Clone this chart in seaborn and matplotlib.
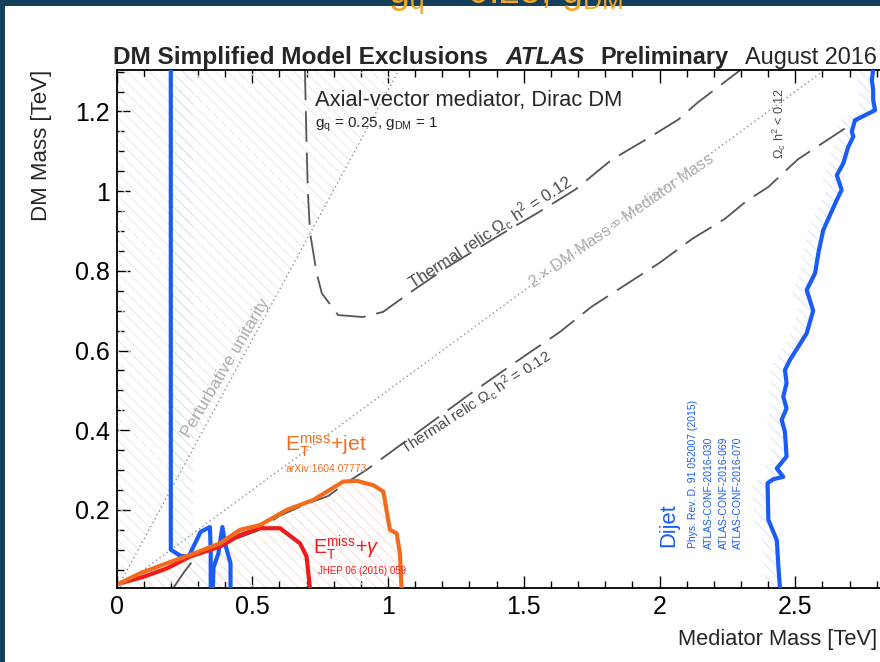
import numpy as np
import seaborn as sns
import matplotlib.pyplot as plt
from matplotlib.patches import Polygon, Rectangle
from matplotlib.ticker import MultipleLocator
from matplotlib import font_manager

sns.set_style("ticks")


def have_font(name):
    try:
        font_manager.findfont(font_manager.FontProperties(family=name),
                              fallback_to_default=False)
        return True
    except Exception:
        return False


SANS = "Liberation Sans" if have_font("Liberation Sans") else "DejaVu Sans"
plt.rcParams["font.family"] = [SANS, "DejaVu Sans"]
plt.rcParams["mathtext.fontset"] = "custom"
plt.rcParams["mathtext.rm"] = SANS
plt.rcParams["mathtext.it"] = SANS + ":italic"
plt.rcParams["mathtext.bf"] = SANS + ":bold"
plt.rcParams["hatch.linewidth"] = 0.8

# ---------------------------------------------------------------- data (TeV)
# Dijet exclusion, low-mass edge and the small island next to it
dijet_low_x = [0.200, 0.200, 0.235, 0.265, 0.285, 0.310, 0.344, 0.347, 0.347]
dijet_low_y = [1.305, 0.100, 0.085, 0.082, 0.110, 0.145, 0.157, 0.100, 0.000]
dijet_isl_x = [0.355, 0.357, 0.375, 0.390, 0.400, 0.420, 0.420]
dijet_isl_y = [0.000, 0.055, 0.090, 0.157, 0.115, 0.066, 0.000]
# Dijet exclusion, high-mass edge
dijet_high_x = [2.444, 2.438, 2.432, 2.401, 2.398, 2.419, 2.456, 2.432, 2.468,
                2.462, 2.450, 2.468, 2.456, 2.468, 2.462, 2.480, 2.542, 2.566,
                2.542, 2.573, 2.585, 2.603, 2.653, 2.671, 2.653, 2.677, 2.695,
                2.714, 2.708, 2.720, 2.794, 2.787, 2.787, 2.782, 2.787]
dijet_high_y = [0.000, 0.057, 0.124, 0.175, 0.267, 0.277, 0.283, 0.304, 0.334,
                0.396, 0.426, 0.455, 0.484, 0.518, 0.551, 0.576, 0.643, 0.700,
                0.752, 0.794, 0.844, 0.902, 0.978, 1.003, 1.040, 1.070, 1.111,
                1.137, 1.149, 1.178, 1.203, 1.229, 1.254, 1.279, 1.305]
# ETmiss + jet
jet_x = [0.013, 0.087, 0.185, 0.271, 0.381, 0.455, 0.529, 0.627, 0.725, 0.835,
         0.885, 0.946, 0.983, 1.007, 1.032, 1.044, 1.050]
jet_y = [0.016, 0.041, 0.066, 0.087, 0.116, 0.150, 0.162, 0.200, 0.225, 0.271,
         0.273, 0.262, 0.246, 0.150, 0.141, 0.091, 0.000]
# ETmiss + photon
gam_x = [0.013, 0.099, 0.185, 0.271, 0.381, 0.455, 0.529, 0.602, 0.676, 0.700,
         0.713]
gam_y = [0.016, 0.032, 0.053, 0.083, 0.108, 0.137, 0.154, 0.154, 0.116, 0.083,
         0.000]
# Thermal relic Omega_c h^2 = 0.12, upper and lower branches
relic_up_x = [0.694, 0.700, 0.705, 0.713, 0.737, 0.756, 0.816, 0.908, 0.982,
              1.080, 1.220, 1.400, 1.550, 1.690, 1.824, 1.949, 2.070, 2.140,
              2.300]
relic_up_y = [1.305, 1.120, 0.995, 0.895, 0.795, 0.744, 0.689, 0.684, 0.697,
              0.745, 0.810, 0.885, 0.945, 1.004, 1.079, 1.129, 1.180, 1.222,
              1.305]
relic_lo_x = [0.210, 0.250, 0.290, 0.330, 0.390, 0.450, 0.520, 0.600, 0.700,
              0.780, 0.850, 0.920, 0.980, 1.100, 1.300, 1.500, 1.630, 1.750,
              1.875, 2.000, 2.120, 2.240, 2.320, 2.400, 2.510, 2.700, 2.790]
relic_lo_y = [0.005, 0.045, 0.080, 0.105, 0.120, 0.130, 0.148, 0.185, 0.215,
              0.235, 0.270, 0.300, 0.330, 0.390, 0.490, 0.585, 0.645, 0.710,
              0.765, 0.820, 0.880, 0.930, 0.975, 1.010, 1.080, 1.165, 1.205]
# Reference lines: 2 x DM mass = mediator mass, perturbative unitarity
diag_x = [0.0, 2.61]
diag_y = [0.0, 1.305]
unit_x = [0.0, 1.041]
unit_y = [0.0, 1.305]

xticks = [0, 0.5, 1, 1.5, 2, 2.5]
xtick_labels = ["0", "0.5", "1", "1.5", "2", "2.5"]
yticks = [0.2, 0.4, 0.6, 0.8, 1.0, 1.2]
ytick_labels = ["0.2", "0.4", "0.6", "0.8", "1", "1.2"]

BLUE = "#1a5cf5"
ORANGE = "#f36c1e"
RED = "#ee1b1b"
DASH = "#555555"
DOT = "#8f8f8f"
LIGHT = "#adadad"

# ---------------------------------------------------------------- figure
W, H = 880, 662
fig = plt.figure(figsize=(W / 100, H / 100), dpi=100)
fig.patch.set_facecolor("#133f5b")
fig.add_artist(Rectangle((5 / W, 0), 1, 1 - 6 / H, transform=fig.transFigure,
                         facecolor="white", edgecolor="none", zorder=-5))

ax = fig.add_axes([116.5 / W, 1 - 588 / H, (W - 116.5) / W, 518 / H])
ax.set_facecolor("none")


def hatch(xs, ys, color):
    ax.add_patch(Polygon(np.column_stack([xs, ys]), closed=True,
                         facecolor="none", edgecolor=color, lw=0,
                         hatch="\\\\\\", zorder=1))


# hatched excluded sides
hatch(unit_x + [0.0], unit_y + [unit_y[-1]], "#ececec")
lx = np.array(dijet_low_x[:2])
ly = np.array(dijet_low_y[:2])
hatch(np.r_[lx, lx[::-1] + 0.08], np.r_[ly, ly[::-1]], "#dbe6fc")
hx = np.array(dijet_high_x)
hy = np.array(dijet_high_y)
hatch(np.r_[hx, hx[::-1] - 0.055], np.r_[hy, hy[::-1]], "#dbe6fc")
hatch(np.r_[dijet_isl_x], np.r_[dijet_isl_y], "#dbe6fc")
hatch(np.r_[0.0, jet_x, 0.0], np.r_[0.0, jet_y, 0.0], "#fadfd8")


def sline(x, y, **kw):
    sns.lineplot(x=x, y=y, sort=False, estimator=None, ax=ax, legend=False,
                 **kw)


sline(diag_x, diag_y, color=DOT, lw=1.0, linestyle=(0, (1, 2.2)), zorder=2)
sline(unit_x, unit_y, color=DOT, lw=1.0, linestyle=(0, (1, 2.2)), zorder=2)
sline(relic_up_x, relic_up_y, color=DASH, lw=1.3, linestyle=(0, (17, 6)),
      zorder=2)
sline(relic_lo_x, relic_lo_y, color=DASH, lw=1.3, linestyle=(0, (17, 6)),
      zorder=2)
sline(dijet_low_x, dijet_low_y, color=BLUE, lw=3.0, zorder=3)
sline(dijet_isl_x, dijet_isl_y, color=BLUE, lw=3.0, zorder=3)
sline(dijet_high_x, dijet_high_y, color=BLUE, lw=3.0, zorder=3)
sline(gam_x, gam_y, color=RED, lw=3.0, zorder=4)
sline(jet_x, jet_y, color=ORANGE, lw=3.0, zorder=5)

ax.set_xlim(0, (W - 116.5) / 271.5)
ax.set_ylim(0.004, 1.304)
ax.set_xlabel("")
ax.set_ylabel("")
ax.set_xticks(xticks)
ax.set_xticklabels(xtick_labels)
ax.set_yticks(yticks)
ax.set_yticklabels(ytick_labels)
ax.xaxis.set_minor_locator(MultipleLocator(0.1))
ax.yaxis.set_minor_locator(MultipleLocator(0.05))
ax.tick_params(which="both", direction="in", top=True, right=False,
               width=1.0, colors="black", labelsize=18, pad=5)
ax.tick_params(which="major", length=9)
ax.tick_params(which="minor", length=5)
for side in ("left", "bottom", "top"):
    ax.spines[side].set_linewidth(1.3)
    ax.spines[side].set_color("black")
ax.spines["right"].set_visible(False)

# ---------------------------------------------------------------- text
renderer = fig.canvas.get_renderer()


def put(s, x0, x1, y, ha="left", va="baseline", **kw):
    """Place text at pixel coords, sized so that it spans x0..x1."""
    t = fig.text(x0 / W, 1 - y / H, s, ha=ha, va=va, fontsize=20, **kw)
    w = t.get_window_extent(renderer).width
    t.set_fontsize(20 * abs(x1 - x0) / w)
    return t


def put_at(s, cx, cy, length, rot, **kw):
    """Centre text at pixel coords, rotated, with the given length."""
    t = fig.text(cx / W, 1 - cy / H, s, ha="center", va="center",
                 fontsize=20, **kw)
    w = t.get_window_extent(renderer).width
    t.set_fontsize(20 * length / w)
    t.set_rotation(rot)
    t.set_rotation_mode("anchor")
    return t


put("DM Simplified Model Exclusions", 113, 487, 64, fontweight="bold")
put("ATLAS", 505, 584, 64, fontweight="bold", fontstyle="italic")
put("Preliminary", 600, 728, 64, fontweight="bold")
put("August 2016", 745, 877, 64)

put("Mediator Mass [TeV]", 678, 877, 645)
fig.text(41 / W, 1 - 70 / H, "DM Mass [TeV]", rotation=90, ha="center",
         va="top", fontsize=16)

put("Axial-vector mediator, Dirac DM", 315, 622, 106)
put(r"g$_{\rm q}$ = 0.25, g$_{\rm DM}$ = 1", 315, 437, 128)

put(r"E$_{\rm T}^{\rm miss}$+jet", 285, 366, 451, color=ORANGE)
put("arXiv:1604.07773", 285, 366, 472, color=ORANGE)
put(r"E$_{\rm T}^{\rm miss}$+$\gamma$", 313, 379, 554, color=RED)
put("JHEP 06 (2016) 059", 318, 407, 574, color=RED)

put_at("Perturbative unitarity", 226, 368, 158, 59.5, color=LIGHT)
put_at(r"Thermal relic $\Omega_{\rm c}$ h$^2$ = 0.12", 490, 232, 190, 33,
       color="#4a4a4a")
put_at(r"2 $\times$ DM Mass = Mediator Mass", 621, 220, 222, 35,
       color=LIGHT)
put_at(r"Thermal relic $\Omega_{\rm c}$ h$^2$ = 0.12", 476, 402, 175, 33,
       color="#4a4a4a")
put_at(r"$\Omega_{\rm c}$ h$^2$ < 0.12", 779, 123, 70, 90, color="#4a4a4a")

put_at("Dijet", 669, 525, 44, 90, color=BLUE)
put_at("Phys. Rev. D. 91 052007 (2015)", 693, 474, 148, 90, color=BLUE)
put_at("ATLAS-CONF-2016-030", 709, 493, 112, 90, color=BLUE)
put_at("ATLAS-CONF-2016-069", 724, 493, 112, 90, color=BLUE)
put_at("ATLAS-CONF-2016-070", 738, 493, 112, 90, color=BLUE)

# slide heading peeking in above the plot
fig.text(388 / W, 1 - 3 / H, r"g$_{\rm q}$ = 0.25, g$_{\rm DM}$",
         color="#f2a51f", fontsize=27, ha="left", va="baseline")

fig.savefig("out.png", dpi=100, facecolor=fig.get_facecolor())
